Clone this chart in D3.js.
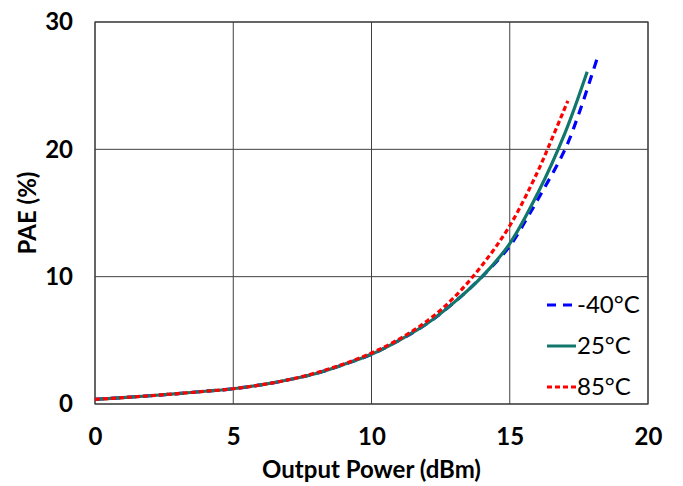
<!DOCTYPE html>
<html>
<head>
<meta charset="utf-8">
<script src="https://cdn.jsdelivr.net/npm/d3@7"></script>
<style>
  body { margin: 0; background: #fff; }
  text { font-family: Lato, "Open Sans", sans-serif; }
</style>
</head>
<body>
<svg id="chart" width="683" height="486"></svg>
<script>
// values
const xTicks = [0, 5, 10, 15, 20];
const yTicks = [0, 10, 20, 30];

const pout40 = [0, 1, 2, 3, 4, 5, 6, 7, 8, 9, 10, 11, 12, 13, 14, 15, 15.6, 16, 17, 17.5, 18.2];
const pae40  = [0.37, 0.5, 0.65, 0.82, 1.0, 1.2, 1.5, 1.9, 2.4, 3.1, 3.9, 5.0, 6.3, 8.0, 10.0, 12.4, 14.5, 16.0, 20.0, 22.8, 27.4];

const pout25 = [0, 1, 2, 3, 4, 5, 6, 7, 8, 9, 10, 11, 12, 13, 14, 15, 16, 17, 17.8];
const pae25  = [0.37, 0.5, 0.65, 0.82, 1.0, 1.2, 1.5, 1.9, 2.4, 3.1, 3.9, 5.0, 6.3, 8.0, 10.0, 12.6, 16.5, 21.3, 26.1];

const pout85 = [0, 1, 2, 3, 4, 5, 6, 7, 8, 9, 10, 11, 12, 13, 14, 15, 16, 16.5, 17.1];
const pae85  = [0.37, 0.5, 0.65, 0.82, 1.0, 1.2, 1.5, 1.9, 2.45, 3.15, 4.0, 5.1, 6.5, 8.4, 10.9, 14.0, 18.2, 20.7, 23.8];

const labels = ["-40°C", "25°C", "85°C"];
const colors = ["#0000ff", "#11766b", "#ff0000"];
const dashes = ["9,7", null, "5,3"];

const margin = {top: 22, right: 35, bottom: 82, left: 95};
const width = 683, height = 486;

const svg = d3.select("#chart");

const x = d3.scaleLinear().domain([0, 20]).range([margin.left, width - margin.right]);
const y = d3.scaleLinear().domain([0, 30]).range([height - margin.bottom, margin.top]);

// gridlines
svg.append("g")
  .selectAll("line.v")
  .data(xTicks)
  .join("line")
  .attr("x1", d => x(d)).attr("x2", d => x(d))
  .attr("y1", y(0)).attr("y2", y(30))
  .attr("stroke", "#404040").attr("stroke-width", 1);

svg.append("g")
  .selectAll("line.h")
  .data(yTicks)
  .join("line")
  .attr("x1", x(0)).attr("x2", x(20))
  .attr("y1", d => y(d)).attr("y2", d => y(d))
  .attr("stroke", "#404040").attr("stroke-width", 1);

svg.append("rect")
  .attr("x", x(0)).attr("y", y(30))
  .attr("width", x(20) - x(0)).attr("height", y(0) - y(30))
  .attr("fill", "none").attr("stroke", "#404040").attr("stroke-width", 1.2);

// axes (labels only)
const xAxis = svg.append("g")
  .attr("transform", `translate(0,${y(0)})`)
  .call(d3.axisBottom(x).tickValues(xTicks).tickSize(0).tickPadding(24));
const yAxis = svg.append("g")
  .attr("transform", `translate(${x(0)},0)`)
  .call(d3.axisLeft(y).tickValues(yTicks).tickSize(0).tickPadding(22));
[xAxis, yAxis].forEach(a => {
  a.select(".domain").remove();
  a.selectAll("text")
    .attr("font-family", "Lato, sans-serif")
    .attr("font-size", 24).attr("font-weight", "bold").attr("fill", "#000");
});

svg.append("text")
  .attr("x", (x(0) + x(20)) / 2).attr("y", 478)
  .attr("text-anchor", "middle")
  .attr("font-size", 24).attr("font-weight", "bold")
  .text("Output Power (dBm)");

svg.append("text")
  .attr("transform", `translate(36,${(y(0) + y(30)) / 2}) rotate(-90)`)
  .attr("text-anchor", "middle")
  .attr("font-size", 24).attr("font-weight", "bold")
  .text("PAE (%)");

// curves
const series = [
  pout40.map((p, i) => [p, pae40[i]]),
  pout25.map((p, i) => [p, pae25[i]]),
  pout85.map((p, i) => [p, pae85[i]])
];

const line = d3.line()
  .x(d => x(d[0])).y(d => y(d[1]))
  .curve(d3.curveCatmullRom.alpha(0.5));

[0, 1, 2].forEach(i => {
  svg.append("path")
    .datum(series[i])
    .attr("d", line)
    .attr("fill", "none")
    .attr("stroke", colors[i])
    .attr("stroke-width", 3.2)
    .attr("stroke-dasharray", dashes[i]);
});

// legend
const legend = svg.append("g");
labels.forEach((lab, i) => {
  const ly = 305 + i * 41;
  legend.append("line")
    .attr("x1", 547).attr("x2", 576)
    .attr("y1", ly).attr("y2", ly)
    .attr("stroke", colors[i]).attr("stroke-width", 3)
    .attr("stroke-dasharray", dashes[i]);
  legend.append("text")
    .attr("x", 577).attr("y", ly + 8)
    .attr("font-size", 24)
    .text(lab);
});
</script>
</body>
</html>
